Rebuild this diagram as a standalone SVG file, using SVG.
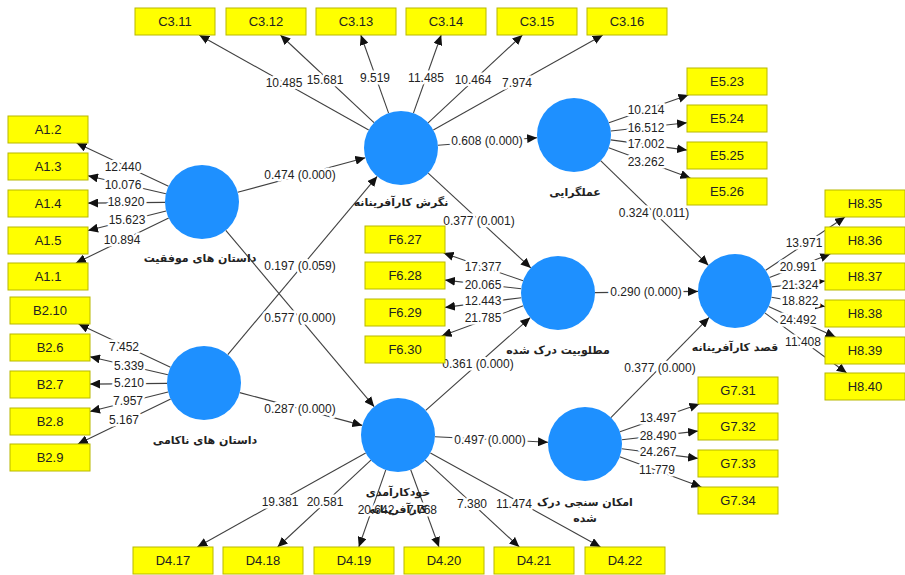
<svg xmlns="http://www.w3.org/2000/svg" width="905" height="575" viewBox="0 0 905 575">
<defs>
<marker id="ah" markerUnits="userSpaceOnUse" markerWidth="11" markerHeight="9" refX="10" refY="4.5" orient="auto">
<path d="M0,0 L10,4.5 L0,9 z" fill="#111"/>
</marker>
<style>
.c{stroke:#404040;stroke-width:1.1;fill:none;marker-end:url(#ah)}
.n{font-family:"Liberation Sans",Arial,sans-serif;font-size:12px;fill:#222;text-anchor:middle;stroke:#fff;stroke-width:5;paint-order:stroke;stroke-linejoin:round}
.box rect{fill:#ffff00;stroke:#b8b800;stroke-width:1}
.box text{font-family:"Liberation Sans",Arial,sans-serif;font-size:13px;fill:#222;text-anchor:middle}
.lv circle{fill:#1e90ff}
.lv text{font-family:"DejaVu Sans",sans-serif;font-size:11px;font-weight:bold;fill:#222;text-anchor:middle}
</style>
</defs>
<rect width="905" height="575" fill="#fff"/>
<g id="connectors">
<line class="c" x1="237.7" y1="192.3" x2="365.3" y2="157.7"/>
<line class="c" x1="225.8" y1="230.3" x2="374.2" y2="406.7"/>
<line class="c" x1="227.8" y1="354.6" x2="377.2" y2="176.4"/>
<line class="c" x1="239.7" y1="392.6" x2="362.3" y2="425.4"/>
<line class="c" x1="437.9" y1="145.2" x2="537.1" y2="137.8"/>
<line class="c" x1="428.2" y1="173.1" x2="530.8" y2="267.9"/>
<line class="c" x1="600.6" y1="160.7" x2="708.4" y2="265.3"/>
<line class="c" x1="595" y1="292.6" x2="698" y2="291.4"/>
<line class="c" x1="425.7" y1="410.4" x2="530.3" y2="317.6"/>
<line class="c" x1="435" y1="436.8" x2="548" y2="442.2"/>
<line class="c" x1="610.9" y1="417.6" x2="709.1" y2="317.4"/>
<line class="c" x1="368.7" y1="129.9" x2="199.2" y2="35"/>
<line class="c" x1="374" y1="122.7" x2="280.4" y2="35"/>
<line class="c" x1="388.6" y1="113.1" x2="360.8" y2="35"/>
<line class="c" x1="413.4" y1="113.1" x2="441.2" y2="35"/>
<line class="c" x1="428.1" y1="122.8" x2="522.4" y2="35"/>
<line class="c" x1="433.3" y1="129.9" x2="602.8" y2="35"/>
<line class="c" x1="168.5" y1="186.2" x2="76.6" y2="143"/>
<line class="c" x1="165.9" y1="193.7" x2="88" y2="175.7"/>
<line class="c" x1="165" y1="202.4" x2="88" y2="203.1"/>
<line class="c" x1="166.1" y1="211" x2="88" y2="230.5"/>
<line class="c" x1="168.7" y1="218.1" x2="75.9" y2="263"/>
<line class="c" x1="170.5" y1="367.2" x2="78.6" y2="324"/>
<line class="c" x1="167.9" y1="374.7" x2="90" y2="356.7"/>
<line class="c" x1="167" y1="383.4" x2="90" y2="384.1"/>
<line class="c" x1="168.1" y1="392" x2="90" y2="411.5"/>
<line class="c" x1="170.7" y1="399.1" x2="77.9" y2="444"/>
<line class="c" x1="523.1" y1="280.8" x2="443.6" y2="253"/>
<line class="c" x1="521.2" y1="288.8" x2="445" y2="280.1"/>
<line class="c" x1="521.3" y1="297.7" x2="445" y2="307.4"/>
<line class="c" x1="523.3" y1="305.8" x2="441.6" y2="336"/>
<line class="c" x1="608.9" y1="122.8" x2="688.4" y2="95"/>
<line class="c" x1="610.8" y1="131" x2="687" y2="122.8"/>
<line class="c" x1="610.7" y1="139.9" x2="687" y2="150.1"/>
<line class="c" x1="608.7" y1="147.8" x2="690.4" y2="178"/>
<line class="c" x1="765.7" y1="270.3" x2="845" y2="217"/>
<line class="c" x1="769.5" y1="277.6" x2="830.3" y2="254"/>
<line class="c" x1="771.8" y1="286.9" x2="825" y2="281"/>
<line class="c" x1="771.5" y1="297.3" x2="825" y2="306.6"/>
<line class="c" x1="768.6" y1="306.4" x2="835.5" y2="337"/>
<line class="c" x1="764.8" y1="312.9" x2="846.7" y2="373"/>
<line class="c" x1="619.9" y1="431.8" x2="699.4" y2="404"/>
<line class="c" x1="621.8" y1="439.8" x2="698" y2="431.1"/>
<line class="c" x1="621.7" y1="448.7" x2="698" y2="458.4"/>
<line class="c" x1="619.7" y1="456.8" x2="701.4" y2="487"/>
<line class="c" x1="365.7" y1="453" x2="197.3" y2="547"/>
<line class="c" x1="370.9" y1="460.2" x2="277.6" y2="547"/>
<line class="c" x1="385.8" y1="469.9" x2="358.8" y2="547"/>
<line class="c" x1="410.7" y1="469.7" x2="439" y2="547"/>
<line class="c" x1="425.2" y1="460.1" x2="519.3" y2="547"/>
<line class="c" x1="430.4" y1="452.9" x2="600.5" y2="547"/>
<text class="n" x="300" y="179">0.474 (0.000)</text>
<text class="n" x="300" y="322">0.577 (0.000)</text>
<text class="n" x="300" y="270">0.197 (0.059)</text>
<text class="n" x="300" y="413">0.287 (0.000)</text>
<text class="n" x="487" y="145">0.608 (0.000)</text>
<text class="n" x="479" y="225">0.377 (0.001)</text>
<text class="n" x="654" y="217">0.324 (0.011)</text>
<text class="n" x="646" y="296">0.290 (0.000)</text>
<text class="n" x="478" y="368">0.361 (0.000)</text>
<text class="n" x="490" y="444">0.497 (0.000)</text>
<text class="n" x="660" y="372">0.377 (0.000)</text>
<text class="n" x="284" y="87">10.485</text>
<text class="n" x="325" y="84">15.681</text>
<text class="n" x="375" y="82">9.519</text>
<text class="n" x="426" y="82">11.485</text>
<text class="n" x="473" y="84">10.464</text>
<text class="n" x="517" y="87">7.974</text>
<text class="n" x="123" y="171">12.440</text>
<text class="n" x="123" y="189">10.076</text>
<text class="n" x="126" y="206">18.920</text>
<text class="n" x="127" y="224">15.623</text>
<text class="n" x="122" y="244">10.894</text>
<text class="n" x="124" y="351">7.452</text>
<text class="n" x="129" y="370">5.339</text>
<text class="n" x="129" y="387">5.210</text>
<text class="n" x="128" y="405">7.957</text>
<text class="n" x="124" y="424">5.167</text>
<text class="n" x="483" y="271">17.377</text>
<text class="n" x="483" y="289">20.065</text>
<text class="n" x="483" y="305">12.443</text>
<text class="n" x="483" y="322">21.785</text>
<text class="n" x="646" y="114">10.214</text>
<text class="n" x="646" y="132">16.512</text>
<text class="n" x="646" y="148">17.002</text>
<text class="n" x="646" y="166">23.262</text>
<text class="n" x="804" y="247">13.971</text>
<text class="n" x="798" y="271">20.991</text>
<text class="n" x="800" y="289">21.324</text>
<text class="n" x="800" y="305">18.822</text>
<text class="n" x="798" y="324">24.492</text>
<text class="n" x="803" y="346">11.408</text>
<text class="n" x="658" y="422">13.497</text>
<text class="n" x="658" y="440">28.490</text>
<text class="n" x="658" y="456">24.267</text>
<text class="n" x="657" y="474">11.779</text>
<text class="n" x="280" y="506">19.381</text>
<text class="n" x="325" y="506">20.581</text>
<text class="n" x="376" y="514">20.642</text>
<text class="n" x="422" y="514">7.768</text>
<text class="n" x="472" y="508">7.380</text>
<text class="n" x="514" y="508">11.474</text>
</g>
<g id="lv-negaresh" class="lv"><circle cx="401" cy="148" r="37"/><text x="401" y="206">نگرش کارآفرینانه</text></g>
<g id="lv-amalgarayi" class="lv"><circle cx="574" cy="135" r="37"/><text x="575" y="196">عملگرایی</text></g>
<g id="lv-movafaghiat" class="lv"><circle cx="202" cy="202" r="37"/><text x="200" y="262">داستان های موفقیت</text></g>
<g id="lv-nakami" class="lv"><circle cx="204" cy="383" r="37"/><text x="205" y="444">داستان های ناکامی</text></g>
<g id="lv-matlobiat" class="lv"><circle cx="558" cy="293" r="37"/><text x="558" y="354">مطلوبیت درک شده</text></g>
<g id="lv-ghasd" class="lv"><circle cx="735" cy="291" r="37"/><text x="735" y="351">قصد کارآفرینانه</text></g>
<g id="lv-khodkaramadi" class="lv"><circle cx="398" cy="435" r="37"/><text x="398" y="496">خودکارآمدی</text><text x="398" y="513">کارآفرینانه</text></g>
<g id="lv-emkan" class="lv"><circle cx="585" cy="444" r="37"/><text x="585" y="506">امکان سنجی درک</text><text x="585" y="522">شده</text></g>
<g id="C3.11" class="box"><rect x="135" y="8" width="80" height="27"/><text x="175" y="26">C3.11</text></g>
<g id="C3.12" class="box"><rect x="226" y="8" width="80" height="27"/><text x="266" y="26">C3.12</text></g>
<g id="C3.13" class="box"><rect x="316" y="8" width="80" height="27"/><text x="356" y="26">C3.13</text></g>
<g id="C3.14" class="box"><rect x="406" y="8" width="80" height="27"/><text x="446" y="26">C3.14</text></g>
<g id="C3.15" class="box"><rect x="497" y="8" width="80" height="27"/><text x="537" y="26">C3.15</text></g>
<g id="C3.16" class="box"><rect x="587" y="8" width="80" height="27"/><text x="627" y="26">C3.16</text></g>
<g id="A1.2" class="box"><rect x="8" y="116" width="80" height="27"/><text x="48" y="134">A1.2</text></g>
<g id="A1.3" class="box"><rect x="8" y="153" width="80" height="27"/><text x="48" y="171">A1.3</text></g>
<g id="A1.4" class="box"><rect x="8" y="190" width="80" height="27"/><text x="48" y="208">A1.4</text></g>
<g id="A1.5" class="box"><rect x="8" y="227" width="80" height="27"/><text x="48" y="245">A1.5</text></g>
<g id="A1.1" class="box"><rect x="8" y="263" width="80" height="27"/><text x="48" y="281">A1.1</text></g>
<g id="B2.10" class="box"><rect x="10" y="297" width="80" height="27"/><text x="50" y="315">B2.10</text></g>
<g id="B2.6" class="box"><rect x="10" y="334" width="80" height="27"/><text x="50" y="352">B2.6</text></g>
<g id="B2.7" class="box"><rect x="10" y="371" width="80" height="27"/><text x="50" y="389">B2.7</text></g>
<g id="B2.8" class="box"><rect x="10" y="408" width="80" height="27"/><text x="50" y="426">B2.8</text></g>
<g id="B2.9" class="box"><rect x="10" y="444" width="80" height="27"/><text x="50" y="462">B2.9</text></g>
<g id="F6.27" class="box"><rect x="365" y="226" width="80" height="27"/><text x="405" y="244">F6.27</text></g>
<g id="F6.28" class="box"><rect x="365" y="262" width="80" height="27"/><text x="405" y="280">F6.28</text></g>
<g id="F6.29" class="box"><rect x="365" y="299" width="80" height="27"/><text x="405" y="317">F6.29</text></g>
<g id="F6.30" class="box"><rect x="365" y="336" width="80" height="27"/><text x="405" y="354">F6.30</text></g>
<g id="E5.23" class="box"><rect x="687" y="68" width="80" height="27"/><text x="727" y="86">E5.23</text></g>
<g id="E5.24" class="box"><rect x="687" y="105" width="80" height="27"/><text x="727" y="123">E5.24</text></g>
<g id="E5.25" class="box"><rect x="687" y="142" width="80" height="27"/><text x="727" y="160">E5.25</text></g>
<g id="E5.26" class="box"><rect x="687" y="178" width="80" height="27"/><text x="727" y="196">E5.26</text></g>
<g id="H8.35" class="box"><rect x="825" y="190" width="80" height="27"/><text x="865" y="208">H8.35</text></g>
<g id="H8.36" class="box"><rect x="825" y="227" width="80" height="27"/><text x="865" y="245">H8.36</text></g>
<g id="H8.37" class="box"><rect x="825" y="263" width="80" height="27"/><text x="865" y="281">H8.37</text></g>
<g id="H8.38" class="box"><rect x="825" y="300" width="80" height="27"/><text x="865" y="318">H8.38</text></g>
<g id="H8.39" class="box"><rect x="825" y="337" width="80" height="27"/><text x="865" y="355">H8.39</text></g>
<g id="H8.40" class="box"><rect x="825" y="373" width="80" height="27"/><text x="865" y="391">H8.40</text></g>
<g id="G7.31" class="box"><rect x="698" y="377" width="80" height="27"/><text x="738" y="395">G7.31</text></g>
<g id="G7.32" class="box"><rect x="698" y="413" width="80" height="27"/><text x="738" y="431">G7.32</text></g>
<g id="G7.33" class="box"><rect x="698" y="450" width="80" height="27"/><text x="738" y="468">G7.33</text></g>
<g id="G7.34" class="box"><rect x="698" y="487" width="80" height="27"/><text x="738" y="505">G7.34</text></g>
<g id="D4.17" class="box"><rect x="133" y="547" width="80" height="27"/><text x="173" y="565">D4.17</text></g>
<g id="D4.18" class="box"><rect x="223" y="547" width="80" height="27"/><text x="263" y="565">D4.18</text></g>
<g id="D4.19" class="box"><rect x="314" y="547" width="80" height="27"/><text x="354" y="565">D4.19</text></g>
<g id="D4.20" class="box"><rect x="404" y="547" width="80" height="27"/><text x="444" y="565">D4.20</text></g>
<g id="D4.21" class="box"><rect x="494" y="547" width="80" height="27"/><text x="534" y="565">D4.21</text></g>
<g id="D4.22" class="box"><rect x="585" y="547" width="80" height="27"/><text x="625" y="565">D4.22</text></g>
</svg>
